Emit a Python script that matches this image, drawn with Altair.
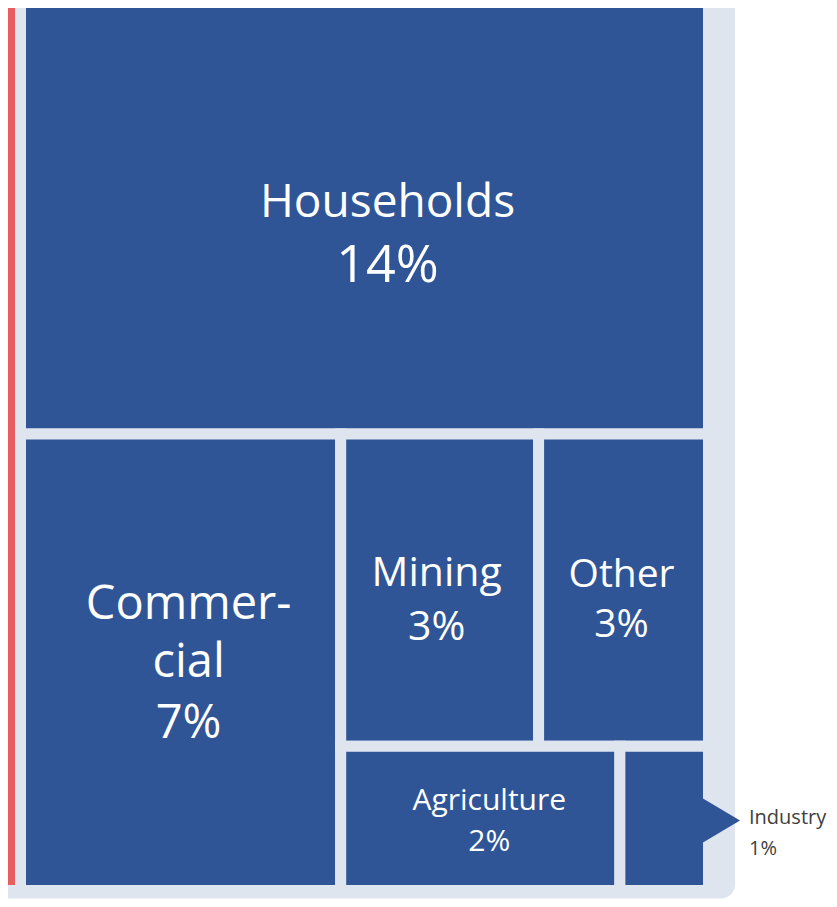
import altair as alt
import pandas as pd

# ---- data ----
categories = ["Households", "Commercial", "Mining", "Other", "Agriculture", "Industry"]
values = [14.0, 6.86, 2.90, 2.49, 1.89, 0.60]
pct_labels = ["14%", "7%", "3%", "3%", "2%", "1%"]
name_lines = [["Households"], ["Commer-", "cial"], ["Mining"], ["Other"], ["Agriculture"], ["Industry"]]
cropped_category = "Remaining share"
cropped_value = 100 - 28.74  # block on the left, only its edge is visible

# ---- treemap layout from the values (unit box for the visible blue block) ----
def layout(vals):
    H, C, M, O, A, I = vals
    total = sum(vals)
    ys = H / total
    rest = total - H
    xs = C / rest
    right = rest - C
    ys2 = ys + (1 - ys) * (M + O) / right
    xm = xs + (1 - xs) * M / (M + O)
    xa = xs + (1 - xs) * A / (A + I)
    return [
        (0, 1, 0, ys),
        (0, xs, ys, 1),
        (xs, xm, ys, ys2),
        (xm, 1, ys, ys2),
        (xs, xa, ys2, 1),
        (xa, 1, ys2, 1),
    ]

boxes = layout(values)
rows = []
for cat, v, b in zip(categories, values, boxes):
    rows.append(dict(cat=cat, value=v, x=b[0], x2=b[1], y=b[2], y2=b[3],
                     cx=(b[0] + b[1]) / 2, cy=(b[2] + b[3]) / 2))
df = pd.DataFrame(rows)

red_width = cropped_value / sum(values)
df_red = pd.DataFrame([dict(cat=cropped_category, x=-red_width, x2=0, y=0, y2=1)])

# label lines
lab_rows = []
for cat, lines, pct, b in zip(categories, name_lines, pct_labels, boxes):
    allines = lines + [pct]
    for i, t in enumerate(allines):
        lab_rows.append(dict(cat=cat, line=i, text=t, cx=(b[0] + b[1]) / 2, cy=(b[2] + b[3]) / 2,
                             right=b[1]))
df_lab = pd.DataFrame(lab_rows)

# ---- style ----
BLUE = "#2F5597"
RED = "#E85E5E"
PANEL = "#DFE5EF"
FONT = "Open Sans"
W, H = 821, 891

xs = alt.Scale(domain=[-12.5 / 688, (W - 12.5) / 688])
ys = alt.Scale(domain=[7.5 / 890, (H + 7.5) / 890], reverse=True)

X = lambda f: alt.X(f, type="quantitative", scale=xs, axis=None)
Y = lambda f: alt.Y(f, type="quantitative", scale=ys, axis=None)

panel = alt.Chart(df_red).mark_rect(
    color=PANEL, cornerRadius=14, clip=True, x2Offset=26.5, y2Offset=8
).encode(x=alt.X("px:Q", scale=xs, axis=None), x2="px2:Q",
         y=alt.Y("py:Q", scale=ys, axis=None), y2="py2:Q").transform_calculate(
    px="-3", px2="1", py="-1", py2="1")

red = alt.Chart(df_red).mark_rect(color=RED, stroke=PANEL, strokeWidth=11, clip=True).encode(
    x=X("x"), x2="x2:Q", y=Y("y"), y2="y2:Q")

blocks = alt.Chart(df).mark_rect(color=BLUE, stroke=PANEL, strokeWidth=11).encode(
    x=X("x"), x2="x2:Q", y=Y("y"), y2="y2:Q", tooltip=["cat:N", "value:Q"])

arrow = alt.Chart(df).transform_filter(alt.datum.cat == "Industry").mark_point(
    shape="M-0.25,-1L1.432,0L-0.25,1Z", filled=True, color=BLUE, opacity=1,
    size=1936, strokeWidth=0, yOffset=2
).encode(x=X("x2"), y=Y("cy"))

# per-label text styles: (font sizes per line, dx, dy per line)
styles = {
    "Households": ([46, 52], 23, [-0.5, 64.5]),
    "Commercial": ([47, 47, 47], 8, [-43, 14.5, 76]),
    "Mining": ([41, 41], -3, [-4, 50]),
    "Other": ([39, 39], -2, [-3.5, 47]),
    "Agriculture": ([30, 30], 9, [-8, 33]),
}

text_layers = []
for cat, (fsz, dx, dys) in styles.items():
    for i, (fs, dy) in enumerate(zip(fsz, dys)):
        text_layers.append(
            alt.Chart(df_lab).transform_filter(
                (alt.datum.cat == cat) & (alt.datum.line == i)
            ).mark_text(font=FONT, fontSize=fs, color="white", align="center",
                        baseline="alphabetic", dx=dx, dy=dy).encode(
                x=X("cx"), y=Y("cy"), text="text:N")
        )

for i, dy in enumerate([6, 37]):
    text_layers.append(
        alt.Chart(df_lab).transform_filter(
            (alt.datum.cat == "Industry") & (alt.datum.line == i)
        ).mark_text(font=FONT, fontSize=20, color="#404040", align="left",
                    baseline="alphabetic", dx=40.5, dy=dy).encode(
            x=X("right"), y=Y("cy"), text="text:N")
    )

chart = alt.layer(panel, red, blocks, arrow, *text_layers).properties(
    width=W, height=H, padding=0, autosize=alt.AutoSizeParams(type="none"),
    background="white"
).configure_view(stroke=None)

chart.save("out.html", embed_options={"renderer": "svg", "actions": False})
